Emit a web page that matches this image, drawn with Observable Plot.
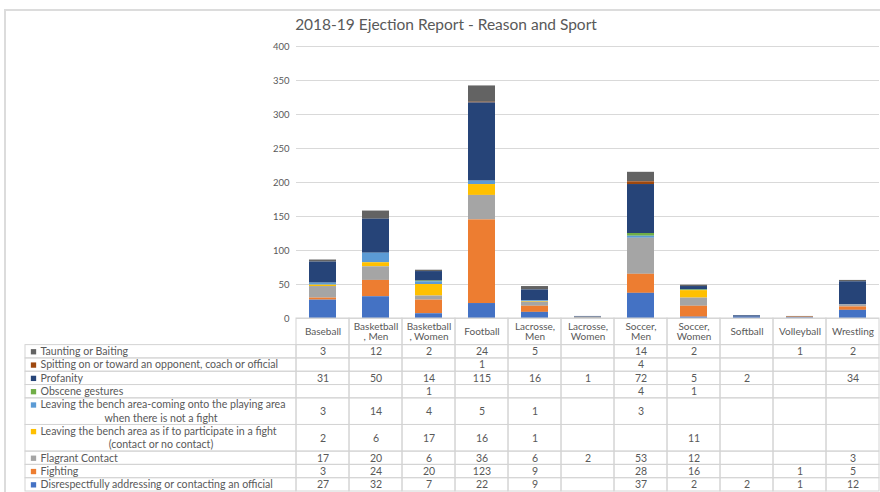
<!DOCTYPE html>
<html><head><meta charset="utf-8">
<script src="https://cdn.jsdelivr.net/npm/d3@7"></script>
<script src="https://cdn.jsdelivr.net/npm/@observablehq/plot@0.6"></script>
<style>
body{margin:0;background:#fff;font-family:Lato,sans-serif;}
#wrap{position:relative;width:880px;height:492px;overflow:hidden;background:#fff;}
#frame{position:absolute;left:4px;top:9px;width:900px;height:500px;border-left:2px solid #dcdcdc;border-top:2px solid #dcdcdc;}
#title{position:absolute;top:15px;left:0;width:892px;text-align:center;font-size:15.5px;color:#595959;}
#chart{position:absolute;top:38px;left:0;}
#table{position:absolute;top:317px;left:0;}
</style></head><body>
<div id="wrap"><div id="frame"></div><div id="title">2018-19 Ejection Report - Reason and Sport</div><div id="chart"></div><div id="table"></div></div>
<script>
// ---- data ----
const sports = ["Baseball","Basketball, Men","Basketball, Women","Football","Lacrosse, Men","Lacrosse, Women","Soccer, Men","Soccer, Women","Softball","Volleyball","Wrestling"];
const sportHeaders = ["Baseball","Basketball\n, Men","Basketball\n, Women","Football","Lacrosse,\nMen","Lacrosse,\nWomen","Soccer,\nMen","Soccer,\nWomen","Softball","Volleyball","Wrestling"];
// table order (top to bottom); stack order is the reverse
const reasons = [
  "Taunting or Baiting",
  "Spitting on or toward an opponent, coach or official",
  "Profanity",
  "Obscene gestures",
  "Leaving the bench area-coming onto the playing area\nwhen there is not a fight",
  "Leaving the bench area as if to participate in a fight\n(contact or no contact)",
  "Flagrant Contact",
  "Fighting",
  "Disrespectfully addressing or contacting an official"
];
const colors = ["#636363","#9E480E","#264478","#70AD47","#5B9BD5","#FFC000","#A5A5A5","#ED7D31","#4472C4"];
const taunting       = [3,12,2,24,5,null,14,2,null,1,2];
const spitting       = [null,null,null,1,null,null,4,null,null,null,null];
const profanity      = [31,50,14,115,16,1,72,5,2,null,34];
const obscene        = [null,null,1,null,null,null,4,1,null,null,null];
const leavingNoFight = [3,14,4,5,1,null,3,null,null,null,null];
const leavingFight   = [2,6,17,16,1,null,null,11,null,null,null];
const flagrant       = [17,20,6,36,6,2,53,12,null,null,3];
const fighting       = [3,24,20,123,9,null,28,16,null,1,5];
const disrespect     = [27,32,7,22,9,null,37,2,2,1,12];
const yTicks = [0,50,100,150,200,250,300,350,400];

const seriesValues = [taunting,spitting,profanity,obscene,leavingNoFight,leavingFight,flagrant,fighting,disrespect];

// ---- chart ----
const rows = [];
reasons.forEach((r,k)=>seriesValues[k].forEach((v,i)=>{ if(v!=null) rows.push({sport:sports[i], reason:r, value:v}); }));
const stackOrder = reasons.slice().reverse();
const font = {fontFamily:"Lato, sans-serif", color:"#595959", background:"transparent", overflow:"visible"};

const chart = Plot.plot({
  width:880, height:281, marginLeft:296, marginRight:1, marginTop:8, marginBottom:1,
  style:{...font, fontSize:"9px"},
  x:{domain:sports, paddingInner:0.49, paddingOuter:0.245, axis:null},
  y:{domain:[0,400]},
  color:{domain:reasons, range:colors},
  marks:[
    Plot.gridY(yTicks, {stroke:"#d9d9d9", strokeOpacity:1, strokeWidth:1}),
    Plot.axisY(yTicks, {tickSize:0, tickPadding:7, fontSize:9.5, label:null}),
    Plot.barY(rows, {x:"sport", y:"value", fill:"reason", order:stackOrder})
  ]
});
document.getElementById("chart").appendChild(chart);

// ---- data table ----
const labelCols = 271/53; // label column width in units of one sport column
const headerLines = 2;
const rowInfo = [];
let start = headerLines;
reasons.forEach((r,k)=>{
  const lines = r.split("\n");
  rowInfo.push({reason:r, line1:lines[0], line2:lines[1]||"", nLines:lines.length, y1:start, y2:start+lines.length, values:seriesValues[k]});
  start += lines.length;
});
const totalLines = start;
const cells = [];
sports.forEach((s,i)=>cells.push({x1:i, x2:i+1, y1:0, y2:headerLines}));
rowInfo.forEach(r=>{
  cells.push({x1:-labelCols, x2:0, y1:r.y1, y2:r.y2});
  sports.forEach((s,i)=>cells.push({x1:i, x2:i+1, y1:r.y1, y2:r.y2}));
});
const valueCells = [];
rowInfo.forEach(r=>r.values.forEach((v,i)=>{ if(v!=null) valueCells.push({x:i+0.5, y:(r.y1+r.y2)/2, v}); }));

const table = Plot.plot({
  width:880, height:175, marginLeft:25, marginRight:1, marginTop:1, marginBottom:1,
  style:{...font, fontSize:"10px"},
  x:{domain:[-labelCols, sports.length], axis:null},
  y:{domain:[0,totalLines], reverse:true, axis:null},
  color:{domain:reasons, range:colors},
  marks:[
    Plot.rect(cells, {x1:"x1", x2:"x2", y1:"y1", y2:"y2", fill:"none", stroke:"#d4d4d4", strokeWidth:1}),
    Plot.text(sportHeaders, {x:(d,i)=>i+0.5, y:headerLines/2, text:d=>d, lineAnchor:"middle", fontSize:10, lineHeight:1.05}),
    Plot.text(valueCells, {x:"x", y:"y", text:"v", fontSize:10.5}),
    Plot.dot(rowInfo, {x:-labelCols, y:d=>d.y1+0.5, dx:8, symbol:"square", r:3, fill:"reason", stroke:null}),
    Plot.text(rowInfo, {x:-labelCols, y:d=>d.y1+0.5, dx:15, text:"line1", textAnchor:"start", fontSize:10.6}),
    Plot.text(rowInfo.filter(d=>d.nLines>1), {x:-labelCols/2, y:d=>d.y1+1.5, text:"line2", fontSize:10.6})
  ]
});
document.getElementById("table").appendChild(table);
</script>
</body></html>
